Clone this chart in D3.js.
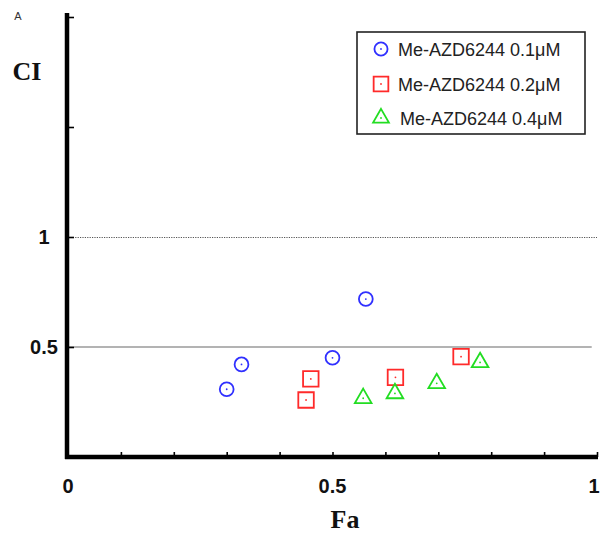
<!DOCTYPE html>
<html>
<head>
<meta charset="utf-8">
<script src="https://cdn.jsdelivr.net/npm/d3@7"></script>
<style>
  html, body { margin: 0; padding: 0; background: #fff; }
  svg { display: block; }
</style>
</head>
<body>
<svg id="chart" width="600" height="535"></svg>
<script>
// Combination index (CI) against fraction affected (Fa)
const seriesNames = ["Me-AZD6244 0.1\u03bcM", "Me-AZD6244 0.2\u03bcM", "Me-AZD6244 0.4\u03bcM"];
const fa01 = [0.300, 0.328, 0.500, 0.563];
const ci01 = [0.308, 0.421, 0.451, 0.718];
const fa02 = [0.450, 0.459, 0.619, 0.743];
const ci02 = [0.259, 0.355, 0.362, 0.456];
const fa04 = [0.558, 0.618, 0.697, 0.779];
const ci04 = [0.267, 0.289, 0.335, 0.430];
const xTickValues = [0.1, 0.2, 0.3, 0.4, 0.5, 0.6, 0.7, 0.8, 0.9, 1.0];
const yTickValues = [0.5, 1, 1.5, 2];
const xTickLabels = ["0", "0.5", "1"];
const yTickLabels = ["0.5", "1"];
const refLines = [1, 0.5];

const colors = ["#3030ff", "#ff2a2a", "#22dd22"];
const symbols = [d3.symbolCircle, d3.symbolSquare, d3.symbolTriangle];
const symbolSizes = [150, 240, 120];

const series = [
  { name: seriesNames[0], fa: fa01, ci: ci01 },
  { name: seriesNames[1], fa: fa02, ci: ci02 },
  { name: seriesNames[2], fa: fa04, ci: ci04 }
];

const svg = d3.select("#chart");
const x = d3.scaleLinear().domain([0, 1]).range([68, 597]);
const y = d3.scaleLinear().domain([0, 2]).range([457, 17]);

// panel letter
svg.append("text").attr("x", 18).attr("y", 20)
  .attr("text-anchor", "middle")
  .style("font", "11px 'Liberation Sans', Arial, sans-serif")
  .attr("fill", "#333").text("A");

// reference lines at CI = 1 (dotted) and CI = 0.5 (solid)
svg.append("line")
  .attr("x1", x(0)).attr("x2", x(1))
  .attr("y1", y(refLines[0]) + 0.5).attr("y2", y(refLines[0]) + 0.5)
  .attr("stroke", "#555").attr("stroke-width", 1.2)
  .attr("stroke-dasharray", "1.2,1.2");
svg.append("line")
  .attr("x1", x(0)).attr("x2", x(0.99))
  .attr("y1", y(refLines[1])).attr("y2", y(refLines[1]))
  .attr("stroke", "#9a9a9a").attr("stroke-width", 1.6);

// axes
const xAxis = d3.axisTop(x).tickValues(xTickValues).tickSize(5).tickSizeOuter(0).tickFormat("");
const yAxis = d3.axisRight(y).tickValues(yTickValues).tickSize(6).tickSizeOuter(0).tickFormat("");

const gx = svg.append("g").attr("transform", `translate(0,${y(0)})`).call(xAxis);
gx.select(".domain").remove();
gx.selectAll(".tick line").attr("stroke", "#000").attr("stroke-width", 1.6);

const gy = svg.append("g").attr("transform", `translate(${x(0)},0)`).call(yAxis);
gy.select(".domain").remove();
gy.selectAll(".tick line").attr("stroke", "#000").attr("stroke-width", 1.6);

svg.append("line")
  .attr("x1", x(0) - 1).attr("x2", x(0) - 1)
  .attr("y1", y(2) - 4).attr("y2", y(0) + 2)
  .attr("stroke", "#000").attr("stroke-width", 4.5);
svg.append("line")
  .attr("x1", x(0) - 3).attr("x2", x(1) + 1)
  .attr("y1", y(0)).attr("y2", y(0))
  .attr("stroke", "#000").attr("stroke-width", 4.5);

// tick labels
const tickFont = "bold 20px 'Liberation Sans', Arial, sans-serif";
svg.selectAll(".xlab").data(xTickLabels).enter().append("text")
  .attr("class", "xlab")
  .attr("x", d => Math.min(x(+d), 594))
  .attr("y", 493)
  .attr("text-anchor", "middle")
  .style("font", tickFont).attr("fill", "#111")
  .text(d => d);
svg.selectAll(".ylab").data(yTickLabels).enter().append("text")
  .attr("class", "ylab")
  .attr("x", 44)
  .attr("y", d => y(+d) + 7)
  .attr("text-anchor", "middle")
  .style("font", tickFont).attr("fill", "#111")
  .text(d => d);

// axis titles
const titleFont = "bold 26px 'Liberation Serif', 'Times New Roman', serif";
svg.append("text").attr("x", 27).attr("y", 80)
  .attr("text-anchor", "middle").style("font", titleFont).attr("fill", "#111").text("CI");
svg.append("text").attr("x", 345).attr("y", 528)
  .attr("text-anchor", "middle").style("font", titleFont).attr("fill", "#111").text("Fa");

// data points
function drawMarker(g, i, cx, cy, size) {
  g.append("path")
    .attr("transform", `translate(${cx},${cy})`)
    .attr("d", d3.symbol().type(symbols[i]).size(size)())
    .attr("fill", "none")
    .attr("stroke", colors[i])
    .attr("stroke-width", 1.8);
  g.append("circle")
    .attr("cx", cx).attr("cy", cy).attr("r", 0.9)
    .attr("fill", colors[i]);
}

series.forEach((s, i) => {
  const g = svg.append("g").attr("class", "series");
  s.fa.forEach((f, j) => drawMarker(g, i, x(f), y(s.ci[j]), symbolSizes[i]));
});

// legend
const legend = svg.append("g");
legend.append("rect")
  .attr("x", 357).attr("y", 32).attr("width", 228).attr("height", 102)
  .attr("fill", "#fff").attr("stroke", "#222").attr("stroke-width", 1.6);
const legendRows = [49, 84, 118];
series.forEach((s, i) => {
  drawMarker(legend, i, 381, legendRows[i], symbolSizes[i] * 0.9);
  legend.append("text")
    .attr("x", 398 + (i === 2 ? 2 : 0)).attr("y", legendRows[i] + 7)
    .style("font", "18px 'Liberation Sans', Arial, sans-serif")
    .attr("fill", "#222")
    .text(s.name);
});
</script>
</body>
</html>
